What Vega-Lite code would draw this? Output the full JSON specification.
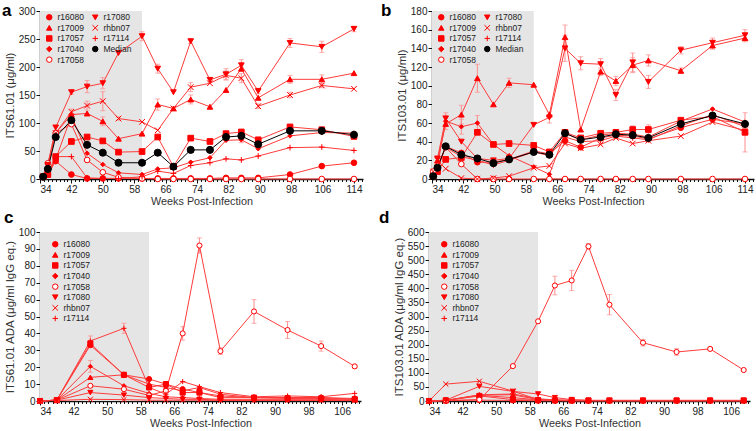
{
"$schema": "https://vega.github.io/schema/vega-lite/v6.json",
"padding": {"left": 2, "top": 2, "right": 2, "bottom": 2},
"config": {
  "font": "Liberation Sans",
  "view": {"stroke": null},
  "axis": {"grid": false, "labelOverlap": false, "format": "d", "domainColor": "#111", "domainWidth": 1.4, "tickColor": "#111", "tickWidth": 1, "tickSize": 4, "labelFont": "Liberation Sans", "labelFontSize": 10, "labelColor": "#222", "labelPadding": 1, "titleFont": "Liberation Sans", "titleFontSize": 11.5, "titleFontWeight": "normal", "titleColor": "#333"},
  "axisX": {"titleFontSize": 10.8},
  "legend": {"labelFont": "Liberation Sans", "labelFontSize": 8.5, "labelColor": "#222", "symbolSize": 30, "symbolStrokeWidth": 1, "rowPadding": 0.6, "labelOffset": 4, "columnPadding": 6},
  "title": {"font": "Liberation Sans", "fontSize": 17, "fontWeight": "bold", "color": "#000"}
},
"datasets": {
"shade": [{"x1": 34, "x2": 60}],
"a": [
{"s":"r16080","w":34.8,"v":4},{"s":"r16080","w":36,"v":8},{"s":"r16080","w":38,"v":32},{"s":"r16080","w":42,"v":8},{"s":"r16080","w":46,"v":1},{"s":"r16080","w":50,"v":1},{"s":"r16080","w":54,"v":1},{"s":"r16080","w":60,"v":1},{"s":"r16080","w":64,"v":1},{"s":"r16080","w":68,"v":1},{"s":"r16080","w":72.4,"v":1},{"s":"r16080","w":77.3,"v":1},{"s":"r16080","w":81.4,"v":2},{"s":"r16080","w":85.3,"v":2},{"s":"r16080","w":89.6,"v":2},{"s":"r16080","w":97.7,"v":8},{"s":"r16080","w":105.8,"v":23},{"s":"r16080","w":114,"v":29},
{"s":"r17009","w":34.8,"v":4},{"s":"r17009","w":36,"v":20},{"s":"r17009","w":38,"v":82},{"s":"r17009","w":42,"v":115},{"s":"r17009","w":46,"v":117},{"s":"r17009","w":50,"v":103,"e":8},{"s":"r17009","w":54,"v":72},{"s":"r17009","w":60,"v":81},{"s":"r17009","w":64,"v":133,"e":10},{"s":"r17009","w":68,"v":126},{"s":"r17009","w":72.4,"v":142,"e":8},{"s":"r17009","w":77.3,"v":129},{"s":"r17009","w":81.4,"v":159},{"s":"r17009","w":85.3,"v":197},{"s":"r17009","w":89.6,"v":145},{"s":"r17009","w":97.7,"v":178,"e":7},{"s":"r17009","w":105.8,"v":178,"e":8},{"s":"r17009","w":114,"v":189},
{"s":"r17057","w":34.8,"v":4},{"s":"r17057","w":36,"v":8},{"s":"r17057","w":38,"v":40},{"s":"r17057","w":42,"v":67,"e":3},{"s":"r17057","w":46,"v":75},{"s":"r17057","w":50,"v":68},{"s":"r17057","w":54,"v":48},{"s":"r17057","w":60,"v":49},{"s":"r17057","w":64,"v":75},{"s":"r17057","w":68,"v":22},{"s":"r17057","w":72.4,"v":73},{"s":"r17057","w":77.3,"v":67},{"s":"r17057","w":81.4,"v":81},{"s":"r17057","w":85.3,"v":84,"e":4},{"s":"r17057","w":89.6,"v":70},{"s":"r17057","w":97.7,"v":93},{"s":"r17057","w":105.8,"v":88},{"s":"r17057","w":114,"v":76},
{"s":"r17040","w":34.8,"v":4},{"s":"r17040","w":36,"v":10},{"s":"r17040","w":38,"v":35},{"s":"r17040","w":42,"v":113},{"s":"r17040","w":46,"v":46},{"s":"r17040","w":50,"v":26},{"s":"r17040","w":54,"v":11},{"s":"r17040","w":60,"v":8},{"s":"r17040","w":64,"v":18},{"s":"r17040","w":68,"v":20},{"s":"r17040","w":72.4,"v":30},{"s":"r17040","w":77.3,"v":38},{"s":"r17040","w":81.4,"v":69},{"s":"r17040","w":85.3,"v":70,"e":5},{"s":"r17040","w":89.6,"v":54},{"s":"r17040","w":97.7,"v":77},{"s":"r17040","w":105.8,"v":83},{"s":"r17040","w":114,"v":82},
{"s":"r17058","w":34.8,"v":4},{"s":"r17058","w":36,"v":28},{"s":"r17058","w":38,"v":82},{"s":"r17058","w":42,"v":98},{"s":"r17058","w":46,"v":34},{"s":"r17058","w":50,"v":12},{"s":"r17058","w":54,"v":3},{"s":"r17058","w":60,"v":1},{"s":"r17058","w":64,"v":0},{"s":"r17058","w":68,"v":0},{"s":"r17058","w":72.4,"v":0},{"s":"r17058","w":77.3,"v":0},{"s":"r17058","w":81.4,"v":0},{"s":"r17058","w":85.3,"v":0},{"s":"r17058","w":89.6,"v":0},{"s":"r17058","w":97.7,"v":0},{"s":"r17058","w":105.8,"v":0},{"s":"r17058","w":114,"v":0},
{"s":"r17080","w":34.8,"v":4},{"s":"r17080","w":36,"v":25},{"s":"r17080","w":38,"v":92},{"s":"r17080","w":42,"v":155,"e":4},{"s":"r17080","w":46,"v":165,"e":11},{"s":"r17080","w":50,"v":171,"e":10},{"s":"r17080","w":54,"v":225},{"s":"r17080","w":60,"v":255,"e":8},{"s":"r17080","w":64,"v":197,"e":8},{"s":"r17080","w":68,"v":155},{"s":"r17080","w":72.4,"v":246,"e":4},{"s":"r17080","w":77.3,"v":177,"e":4},{"s":"r17080","w":81.4,"v":187,"e":10},{"s":"r17080","w":85.3,"v":203,"e":10},{"s":"r17080","w":89.6,"v":157,"e":5},{"s":"r17080","w":97.7,"v":243,"e":8},{"s":"r17080","w":105.8,"v":236,"e":10},{"s":"r17080","w":114,"v":268,"e":5},
{"s":"rhbn07","w":34.8,"v":4},{"s":"rhbn07","w":36,"v":25},{"s":"rhbn07","w":38,"v":82},{"s":"rhbn07","w":42,"v":120,"e":5},{"s":"rhbn07","w":46,"v":131,"e":8},{"s":"rhbn07","w":50,"v":139,"e":17},{"s":"rhbn07","w":54,"v":108,"e":3},{"s":"rhbn07","w":60,"v":102},{"s":"rhbn07","w":64,"v":87},{"s":"rhbn07","w":68,"v":126},{"s":"rhbn07","w":72.4,"v":164,"e":8},{"s":"rhbn07","w":77.3,"v":171},{"s":"rhbn07","w":81.4,"v":185,"e":8},{"s":"rhbn07","w":85.3,"v":180,"e":8},{"s":"rhbn07","w":89.6,"v":130,"e":4},{"s":"rhbn07","w":97.7,"v":150,"e":5},{"s":"rhbn07","w":105.8,"v":167,"e":4},{"s":"rhbn07","w":114,"v":161},
{"s":"r17114","w":34.8,"v":4},{"s":"r17114","w":36,"v":10},{"s":"r17114","w":38,"v":40},{"s":"r17114","w":42,"v":40},{"s":"r17114","w":46,"v":2},{"s":"r17114","w":50,"v":1},{"s":"r17114","w":54,"v":1},{"s":"r17114","w":60,"v":4},{"s":"r17114","w":64,"v":14},{"s":"r17114","w":68,"v":10},{"s":"r17114","w":72.4,"v":24},{"s":"r17114","w":77.3,"v":29},{"s":"r17114","w":81.4,"v":36},{"s":"r17114","w":85.3,"v":34},{"s":"r17114","w":89.6,"v":41},{"s":"r17114","w":97.7,"v":56},{"s":"r17114","w":105.8,"v":57},{"s":"r17114","w":114,"v":51},
{"s":"Median","w":34.8,"v":4},{"s":"Median","w":36,"v":18},{"s":"Median","w":38,"v":75},{"s":"Median","w":42,"v":105},{"s":"Median","w":46,"v":61},{"s":"Median","w":50,"v":47},{"s":"Median","w":54,"v":29},{"s":"Median","w":60,"v":29},{"s":"Median","w":64,"v":47},{"s":"Median","w":68,"v":22},{"s":"Median","w":72.4,"v":52},{"s":"Median","w":77.3,"v":52},{"s":"Median","w":81.4,"v":75},{"s":"Median","w":85.3,"v":77},{"s":"Median","w":89.6,"v":62},{"s":"Median","w":97.7,"v":86},{"s":"Median","w":105.8,"v":86},{"s":"Median","w":114,"v":79}
],
"b": [
{"s":"r16080","w":34.3,"v":3},{"s":"r16080","w":35.4,"v":10},{"s":"r16080","w":37.5,"v":35},{"s":"r16080","w":41.5,"v":28},{"s":"r16080","w":45.6,"v":18},{"s":"r16080","w":49.7,"v":18},{"s":"r16080","w":53.7,"v":21},{"s":"r16080","w":60,"v":30},{"s":"r16080","w":64,"v":27},{"s":"r16080","w":68,"v":41},{"s":"r16080","w":72,"v":34},{"s":"r16080","w":77.1,"v":44},{"s":"r16080","w":81,"v":47},{"s":"r16080","w":85.3,"v":46},{"s":"r16080","w":89.3,"v":43},{"s":"r16080","w":97.6,"v":55},{"s":"r16080","w":105.7,"v":64},{"s":"r16080","w":114,"v":59},
{"s":"r17009","w":34.3,"v":3},{"s":"r17009","w":35.4,"v":20},{"s":"r17009","w":37.5,"v":59,"e":6},{"s":"r17009","w":41.5,"v":69,"e":10},{"s":"r17009","w":45.6,"v":108,"e":15},{"s":"r17009","w":49.7,"v":80},{"s":"r17009","w":53.7,"v":103,"e":5},{"s":"r17009","w":60,"v":101},{"s":"r17009","w":64,"v":69},{"s":"r17009","w":68,"v":152,"e":13},{"s":"r17009","w":72,"v":53},{"s":"r17009","w":77.1,"v":115,"e":4},{"s":"r17009","w":81,"v":105,"e":5},{"s":"r17009","w":85.3,"v":122,"e":8},{"s":"r17009","w":89.3,"v":127,"e":6},{"s":"r17009","w":97.6,"v":116,"e":3},{"s":"r17009","w":105.7,"v":143,"e":4},{"s":"r17009","w":114,"v":151,"e":4},
{"s":"r17057","w":34.3,"v":3},{"s":"r17057","w":35.4,"v":8},{"s":"r17057","w":37.5,"v":21},{"s":"r17057","w":41.5,"v":23},{"s":"r17057","w":45.6,"v":50},{"s":"r17057","w":49.7,"v":37},{"s":"r17057","w":53.7,"v":38},{"s":"r17057","w":60,"v":36},{"s":"r17057","w":64,"v":29},{"s":"r17057","w":68,"v":50},{"s":"r17057","w":72,"v":44},{"s":"r17057","w":77.1,"v":49},{"s":"r17057","w":81,"v":50},{"s":"r17057","w":85.3,"v":53,"e":4},{"s":"r17057","w":89.3,"v":53,"e":5},{"s":"r17057","w":97.6,"v":63},{"s":"r17057","w":105.7,"v":67},{"s":"r17057","w":114,"v":50,"e":21},
{"s":"r17040","w":34.3,"v":3},{"s":"r17040","w":35.4,"v":14},{"s":"r17040","w":37.5,"v":62},{"s":"r17040","w":41.5,"v":56,"e":8},{"s":"r17040","w":45.6,"v":60,"e":8},{"s":"r17040","w":49.7,"v":37},{"s":"r17040","w":53.7,"v":25},{"s":"r17040","w":60,"v":13},{"s":"r17040","w":64,"v":5},{"s":"r17040","w":68,"v":49},{"s":"r17040","w":72,"v":42},{"s":"r17040","w":77.1,"v":47},{"s":"r17040","w":81,"v":49},{"s":"r17040","w":85.3,"v":48},{"s":"r17040","w":89.3,"v":45},{"s":"r17040","w":97.6,"v":62},{"s":"r17040","w":105.7,"v":75},{"s":"r17040","w":114,"v":61},
{"s":"r17058","w":34.3,"v":8},{"s":"r17058","w":35.4,"v":14},{"s":"r17058","w":37.5,"v":34},{"s":"r17058","w":41.5,"v":16},{"s":"r17058","w":45.6,"v":0},{"s":"r17058","w":49.7,"v":0},{"s":"r17058","w":53.7,"v":0},{"s":"r17058","w":60,"v":0},{"s":"r17058","w":64,"v":0},{"s":"r17058","w":68,"v":0},{"s":"r17058","w":72,"v":0},{"s":"r17058","w":77.1,"v":0},{"s":"r17058","w":81,"v":0},{"s":"r17058","w":85.3,"v":0},{"s":"r17058","w":89.3,"v":0},{"s":"r17058","w":97.6,"v":0},{"s":"r17058","w":105.7,"v":0},{"s":"r17058","w":114,"v":0},
{"s":"r17080","w":34.3,"v":3},{"s":"r17080","w":35.4,"v":22},{"s":"r17080","w":37.5,"v":65,"e":6},{"s":"r17080","w":41.5,"v":40},{"s":"r17080","w":45.6,"v":22},{"s":"r17080","w":49.7,"v":20},{"s":"r17080","w":53.7,"v":22},{"s":"r17080","w":60,"v":58},{"s":"r17080","w":64,"v":66,"e":6},{"s":"r17080","w":68,"v":140,"e":14},{"s":"r17080","w":72,"v":124,"e":7},{"s":"r17080","w":77.1,"v":123,"e":6},{"s":"r17080","w":81,"v":90,"e":6},{"s":"r17080","w":85.3,"v":125,"e":10},{"s":"r17080","w":89.3,"v":104,"e":7},{"s":"r17080","w":97.6,"v":138,"e":4},{"s":"r17080","w":105.7,"v":146,"e":5},{"s":"r17080","w":114,"v":154,"e":6},
{"s":"rhbn07","w":34.3,"v":8},{"s":"rhbn07","w":35.4,"v":20},{"s":"rhbn07","w":37.5,"v":11},{"s":"rhbn07","w":41.5,"v":1},{"s":"rhbn07","w":45.6,"v":0},{"s":"rhbn07","w":49.7,"v":1},{"s":"rhbn07","w":53.7,"v":3},{"s":"rhbn07","w":60,"v":12},{"s":"rhbn07","w":64,"v":14},{"s":"rhbn07","w":68,"v":38},{"s":"rhbn07","w":72,"v":33},{"s":"rhbn07","w":77.1,"v":37},{"s":"rhbn07","w":81,"v":44},{"s":"rhbn07","w":85.3,"v":38},{"s":"rhbn07","w":89.3,"v":41},{"s":"rhbn07","w":97.6,"v":46},{"s":"rhbn07","w":105.7,"v":61},{"s":"rhbn07","w":114,"v":52},
{"s":"r17114","w":34.3,"v":3},{"s":"r17114","w":35.4,"v":12},{"s":"r17114","w":37.5,"v":34},{"s":"r17114","w":41.5,"v":24},{"s":"r17114","w":45.6,"v":20},{"s":"r17114","w":49.7,"v":15},{"s":"r17114","w":53.7,"v":20},{"s":"r17114","w":60,"v":29},{"s":"r17114","w":64,"v":25},{"s":"r17114","w":68,"v":45},{"s":"r17114","w":72,"v":40},{"s":"r17114","w":77.1,"v":41},{"s":"r17114","w":81,"v":46},{"s":"r17114","w":85.3,"v":44},{"s":"r17114","w":89.3,"v":42},{"s":"r17114","w":97.6,"v":57},{"s":"r17114","w":105.7,"v":69},{"s":"r17114","w":114,"v":56},
{"s":"Median","w":34.3,"v":3},{"s":"Median","w":35.4,"v":12},{"s":"Median","w":37.5,"v":35},{"s":"Median","w":41.5,"v":26},{"s":"Median","w":45.6,"v":22},{"s":"Median","w":49.7,"v":17},{"s":"Median","w":53.7,"v":21},{"s":"Median","w":60,"v":29},{"s":"Median","w":64,"v":26},{"s":"Median","w":68,"v":49},{"s":"Median","w":72,"v":42},{"s":"Median","w":77.1,"v":45},{"s":"Median","w":81,"v":48},{"s":"Median","w":85.3,"v":47},{"s":"Median","w":89.3,"v":44},{"s":"Median","w":97.6,"v":59},{"s":"Median","w":105.7,"v":68},{"s":"Median","w":114,"v":59}
],
"c": [
{"s":"r16080","w":34,"v":0},{"s":"r16080","w":38,"v":0.5},{"s":"r16080","w":46,"v":33},{"s":"r16080","w":54,"v":15.5},{"s":"r16080","w":60,"v":13},{"s":"r16080","w":64,"v":10},{"s":"r16080","w":68,"v":7},{"s":"r16080","w":72,"v":5},{"s":"r16080","w":77,"v":3},{"s":"r16080","w":85,"v":2},{"s":"r16080","w":93,"v":2},{"s":"r16080","w":101,"v":2},{"s":"r16080","w":109,"v":1.5},
{"s":"r17009","w":34,"v":0},{"s":"r17009","w":38,"v":0.5},{"s":"r17009","w":46,"v":14},{"s":"r17009","w":54,"v":15.5},{"s":"r17009","w":60,"v":10},{"s":"r17009","w":64,"v":8},{"s":"r17009","w":68,"v":6},{"s":"r17009","w":72,"v":8},{"s":"r17009","w":77,"v":4},{"s":"r17009","w":85,"v":2},{"s":"r17009","w":93,"v":2},{"s":"r17009","w":101,"v":2},{"s":"r17009","w":109,"v":1},
{"s":"r17057","w":34,"v":0},{"s":"r17057","w":38,"v":0.5},{"s":"r17057","w":46,"v":34,"e":2},{"s":"r17057","w":54,"v":15.5},{"s":"r17057","w":60,"v":8},{"s":"r17057","w":64,"v":10},{"s":"r17057","w":68,"v":5},{"s":"r17057","w":72,"v":5},{"s":"r17057","w":77,"v":2},{"s":"r17057","w":85,"v":2},{"s":"r17057","w":93,"v":1.5},{"s":"r17057","w":101,"v":1.5},{"s":"r17057","w":109,"v":1},
{"s":"r17040","w":34,"v":0},{"s":"r17040","w":38,"v":0.5},{"s":"r17040","w":46,"v":20.5,"e":3.5},{"s":"r17040","w":54,"v":9},{"s":"r17040","w":60,"v":4.5},{"s":"r17040","w":64,"v":2.5},{"s":"r17040","w":68,"v":2},{"s":"r17040","w":72,"v":1.5},{"s":"r17040","w":77,"v":1},{"s":"r17040","w":85,"v":1},{"s":"r17040","w":93,"v":1},{"s":"r17040","w":101,"v":1},{"s":"r17040","w":109,"v":0.5},
{"s":"r17058","w":34,"v":0},{"s":"r17058","w":38,"v":0.5},{"s":"r17058","w":46,"v":9},{"s":"r17058","w":54,"v":7},{"s":"r17058","w":60,"v":3.3},{"s":"r17058","w":64,"v":6},{"s":"r17058","w":68,"v":40,"e":4},{"s":"r17058","w":72,"v":92,"e":4.5},{"s":"r17058","w":77,"v":29.5,"e":2},{"s":"r17058","w":85,"v":53,"e":7},{"s":"r17058","w":93,"v":42,"e":5},{"s":"r17058","w":101,"v":32.5,"e":3},{"s":"r17058","w":109,"v":20.5,"e":1},
{"s":"r17080","w":34,"v":0},{"s":"r17080","w":38,"v":0.5},{"s":"r17080","w":46,"v":5},{"s":"r17080","w":54,"v":3.5},{"s":"r17080","w":60,"v":2},{"s":"r17080","w":64,"v":1.5},{"s":"r17080","w":68,"v":1},{"s":"r17080","w":72,"v":1},{"s":"r17080","w":77,"v":0.5},{"s":"r17080","w":85,"v":0.5},{"s":"r17080","w":93,"v":0.5},{"s":"r17080","w":101,"v":0.5},{"s":"r17080","w":109,"v":0.5},
{"s":"rhbn07","w":34,"v":0},{"s":"rhbn07","w":38,"v":0.3},{"s":"rhbn07","w":46,"v":1},{"s":"rhbn07","w":54,"v":0.8},{"s":"rhbn07","w":60,"v":0.5},{"s":"rhbn07","w":64,"v":0.5},{"s":"rhbn07","w":68,"v":0.5},{"s":"rhbn07","w":72,"v":0.5},{"s":"rhbn07","w":77,"v":0.3},{"s":"rhbn07","w":85,"v":0.3},{"s":"rhbn07","w":93,"v":0.3},{"s":"rhbn07","w":101,"v":0.3},{"s":"rhbn07","w":109,"v":0.3},
{"s":"r17114","w":34,"v":0},{"s":"r17114","w":38,"v":0.5},{"s":"r17114","w":46,"v":35.5,"e":3},{"s":"r17114","w":54,"v":43,"e":3},{"s":"r17114","w":60,"v":8},{"s":"r17114","w":64,"v":4},{"s":"r17114","w":68,"v":11.5},{"s":"r17114","w":72,"v":8.5},{"s":"r17114","w":77,"v":5},{"s":"r17114","w":85,"v":2.5},{"s":"r17114","w":93,"v":3},{"s":"r17114","w":101,"v":2.5},{"s":"r17114","w":109,"v":4.5}
],
"d": [
{"s":"r16080","w":34,"v":0},{"s":"r16080","w":38,"v":1},{"s":"r16080","w":46,"v":3},{"s":"r16080","w":54,"v":2},{"s":"r16080","w":60,"v":1},{"s":"r16080","w":64,"v":1},{"s":"r16080","w":68,"v":1},{"s":"r16080","w":72,"v":1},{"s":"r16080","w":77,"v":1},{"s":"r16080","w":85,"v":1},{"s":"r16080","w":93,"v":1},{"s":"r16080","w":101,"v":1},{"s":"r16080","w":109,"v":1},
{"s":"r17009","w":34,"v":0},{"s":"r17009","w":38,"v":2},{"s":"r17009","w":46,"v":21},{"s":"r17009","w":54,"v":22},{"s":"r17009","w":60,"v":5},{"s":"r17009","w":64,"v":3},{"s":"r17009","w":68,"v":2},{"s":"r17009","w":72,"v":2},{"s":"r17009","w":77,"v":2},{"s":"r17009","w":85,"v":2},{"s":"r17009","w":93,"v":2},{"s":"r17009","w":101,"v":2},{"s":"r17009","w":109,"v":2},
{"s":"r17057","w":34,"v":0},{"s":"r17057","w":38,"v":2},{"s":"r17057","w":46,"v":18},{"s":"r17057","w":54,"v":5},{"s":"r17057","w":60,"v":3},{"s":"r17057","w":64,"v":2},{"s":"r17057","w":68,"v":2},{"s":"r17057","w":72,"v":2},{"s":"r17057","w":77,"v":2},{"s":"r17057","w":85,"v":2},{"s":"r17057","w":93,"v":2},{"s":"r17057","w":101,"v":2},{"s":"r17057","w":109,"v":2},
{"s":"r17040","w":34,"v":0},{"s":"r17040","w":38,"v":2},{"s":"r17040","w":46,"v":20},{"s":"r17040","w":54,"v":12},{"s":"r17040","w":60,"v":4},{"s":"r17040","w":64,"v":2},{"s":"r17040","w":68,"v":1},{"s":"r17040","w":72,"v":1},{"s":"r17040","w":77,"v":1},{"s":"r17040","w":85,"v":1},{"s":"r17040","w":93,"v":1},{"s":"r17040","w":101,"v":1},{"s":"r17040","w":109,"v":1},
{"s":"r17058","w":34,"v":0},{"s":"r17058","w":38,"v":2},{"s":"r17058","w":46,"v":5},{"s":"r17058","w":54,"v":124},{"s":"r17058","w":60,"v":283},{"s":"r17058","w":64,"v":410,"e":33},{"s":"r17058","w":68,"v":428,"e":36},{"s":"r17058","w":72,"v":549,"e":10},{"s":"r17058","w":77,"v":342,"e":36},{"s":"r17058","w":85,"v":207,"e":12},{"s":"r17058","w":93,"v":174,"e":12},{"s":"r17058","w":101,"v":185,"e":4},{"s":"r17058","w":109,"v":110},
{"s":"r17080","w":34,"v":0},{"s":"r17080","w":38,"v":3},{"s":"r17080","w":46,"v":52},{"s":"r17080","w":54,"v":34},{"s":"r17080","w":60,"v":25},{"s":"r17080","w":64,"v":12},{"s":"r17080","w":68,"v":5},{"s":"r17080","w":72,"v":2},{"s":"r17080","w":77,"v":2},{"s":"r17080","w":85,"v":2},{"s":"r17080","w":93,"v":2},{"s":"r17080","w":101,"v":2},{"s":"r17080","w":109,"v":2},
{"s":"rhbn07","w":34,"v":0},{"s":"rhbn07","w":38,"v":60},{"s":"rhbn07","w":46,"v":70},{"s":"rhbn07","w":54,"v":35},{"s":"rhbn07","w":60,"v":5},{"s":"rhbn07","w":64,"v":2},{"s":"rhbn07","w":68,"v":1},{"s":"rhbn07","w":72,"v":1},{"s":"rhbn07","w":77,"v":1},{"s":"rhbn07","w":85,"v":1},{"s":"rhbn07","w":93,"v":1},{"s":"rhbn07","w":101,"v":1},{"s":"rhbn07","w":109,"v":1},
{"s":"r17114","w":34,"v":0},{"s":"r17114","w":38,"v":2},{"s":"r17114","w":46,"v":22},{"s":"r17114","w":54,"v":25},{"s":"r17114","w":60,"v":8},{"s":"r17114","w":64,"v":4},{"s":"r17114","w":68,"v":3},{"s":"r17114","w":72,"v":2},{"s":"r17114","w":77,"v":1},{"s":"r17114","w":85,"v":1},{"s":"r17114","w":93,"v":1},{"s":"r17114","w":101,"v":1},{"s":"r17114","w":109,"v":1}
]
},
"spacing": 3,
"vconcat": [
{"hconcat": [
 {"width": 323, "height": 168,
  "title": {"text": "a", "anchor": "start", "frame": "group", "dx": -38, "dy": 14, "offset": 0},
  "layer": [
   {"data": {"name": "shade"}, "mark": {"type": "rect", "color": "#e5e5e5"},
    "encoding": {"x": {"field": "x1", "type": "quantitative", "title": "Weeks Post-Infection", "scale": {"domain": [34, 116.3], "nice": false, "zero": false}},
     "x2": {"field": "x2"}}},
   {"data": {"name": "a"}, "transform": [{"filter": "isValid(datum.e)"}],
    "mark": {"type": "errorbar", "ticks": {"size": 5}, "color": "#ff8c8c", "thickness": 1},
    "encoding": {"x": {"field": "w", "type": "quantitative", "title": "Weeks Post-Infection"},
     "y": {"field": "v", "type": "quantitative", "title": "ITS61.01 (μg/ml)", "scale": {"domain": [0, 300], "nice": false}},
     "yError": {"field": "e"}}},
   {"data": {"name": "a"}, "mark": {"type": "line", "strokeWidth": 1},
    "encoding": {"x": {"field": "w", "type": "quantitative", "title": "Weeks Post-Infection",
      "axis": {"values": [34,35,36,37,38,39,40,41,42,43,44,45,46,47,48,49,50,51,52,53,54,55,56,57,58,59,60,61,62,63,64,65,66,67,68,69,70,71,72,73,74,75,76,77,78,79,80,81,82,83,84,85,86,87,88,89,90,91,92,93,94,95,96,97,98,99,100,101,102,103,104,105,106,107,108,109,110,111,112,113,114,115,116], "tickCount": 500, "format": "d", "labelExpr": "(datum.value - 34) % 8 === 0 ? datum.label : ''", "labelOverlap": false, "tickSize": {"condition": {"test": "(datum.value - 34) % 8 === 0", "value": 4}, "value": 2.5}, "titlePadding": 1}},
     "y": {"field": "v", "type": "quantitative", "title": "ITS61.01 (μg/ml)", "axis": {"values": [0,50,100,150,200,250,300], "tickCount": 500, "format": "d", "labelOverlap": false, "titlePadding": 3}}, "detail": {"field": "s"},
     "color": {"condition": {"test": "datum.s === 'Median'", "value": "#000000"}, "value": "#ff3b3b"}}},
   {"data": {"name": "a"}, "mark": {"type": "point", "opacity": 1, "strokeWidth": 1},
    "encoding": {"x": {"field": "w", "type": "quantitative", "title": "Weeks Post-Infection"}, "y": {"field": "v", "type": "quantitative", "title": "ITS61.01 (μg/ml)"},
     "size": {"condition": [{"test": "datum.s === 'Median'", "value": 50}, {"test": "datum.s === 'r17040'", "value": 20}], "value": 32},
     "shape": {"field": "s", "type": "nominal", "scale": {"domain": ["r16080","r17009","r17057","r17040","r17058","r17080","rhbn07","r17114","Median"], "range": ["circle","triangle-up","square","diamond","circle","triangle-down","M-1,-1L1,1M-1,1L1,-1","M-1,0H1M0,-1V1","circle"]},
      "legend": {"title": null, "orient": "none", "legendX": 5, "legendY": 2, "columns": 2}},
     "stroke": {"field": "s", "type": "nominal", "scale": {"domain": ["r16080","r17009","r17057","r17040","r17058","r17080","rhbn07","r17114","Median"], "range": ["#ff0000","#ff0000","#ff0000","#ff0000","#ff0000","#ff0000","#ff0000","#ff0000","#000000"]},
      "legend": {"title": null, "orient": "none", "legendX": 5, "legendY": 2, "columns": 2}},
     "fill": {"field": "s", "type": "nominal", "scale": {"domain": ["r16080","r17009","r17057","r17040","r17058","r17080","rhbn07","r17114","Median"], "range": ["#ff0000","#ff0000","#ff0000","#ff0000","#ffffff","#ff0000","#ff0000","#ff0000","#000000"]},
      "legend": {"title": null, "orient": "none", "legendX": 5, "legendY": 2, "columns": 2}}}}
  ]},
 {"width": 322, "height": 168,
  "title": {"text": "b", "anchor": "start", "frame": "group", "dx": -51, "dy": 14, "offset": 0},
  "layer": [
   {"data": {"name": "shade"}, "mark": {"type": "rect", "color": "#e5e5e5"},
    "encoding": {"x": {"field": "x1", "type": "quantitative", "title": "Weeks Post-Infection", "scale": {"domain": [34, 116.3], "nice": false, "zero": false}},
     "x2": {"field": "x2"}}},
   {"data": {"name": "b"}, "transform": [{"filter": "isValid(datum.e)"}],
    "mark": {"type": "errorbar", "ticks": {"size": 5}, "color": "#ff8c8c", "thickness": 1},
    "encoding": {"x": {"field": "w", "type": "quantitative", "title": "Weeks Post-Infection"},
     "y": {"field": "v", "type": "quantitative", "title": "ITS103.01 (μg/ml)", "scale": {"domain": [0, 180], "nice": false}},
     "yError": {"field": "e"}}},
   {"data": {"name": "b"}, "mark": {"type": "line", "strokeWidth": 1},
    "encoding": {"x": {"field": "w", "type": "quantitative", "title": "Weeks Post-Infection",
      "axis": {"values": [34,35,36,37,38,39,40,41,42,43,44,45,46,47,48,49,50,51,52,53,54,55,56,57,58,59,60,61,62,63,64,65,66,67,68,69,70,71,72,73,74,75,76,77,78,79,80,81,82,83,84,85,86,87,88,89,90,91,92,93,94,95,96,97,98,99,100,101,102,103,104,105,106,107,108,109,110,111,112,113,114,115,116], "tickCount": 500, "format": "d", "labelExpr": "(datum.value - 34) % 8 === 0 ? datum.label : ''", "labelOverlap": false, "tickSize": {"condition": {"test": "(datum.value - 34) % 8 === 0", "value": 4}, "value": 2.5}, "titlePadding": 1}},
     "y": {"field": "v", "type": "quantitative", "title": "ITS103.01 (μg/ml)", "axis": {"values": [0,20,40,60,80,100,120,140,160,180], "tickCount": 500, "format": "d", "labelOverlap": false, "titlePadding": 3}}, "detail": {"field": "s"},
     "color": {"condition": {"test": "datum.s === 'Median'", "value": "#000000"}, "value": "#ff3b3b"}}},
   {"data": {"name": "b"}, "mark": {"type": "point", "opacity": 1, "strokeWidth": 1},
    "encoding": {"x": {"field": "w", "type": "quantitative", "title": "Weeks Post-Infection"}, "y": {"field": "v", "type": "quantitative", "title": "ITS103.01 (μg/ml)"},
     "size": {"condition": [{"test": "datum.s === 'Median'", "value": 50}, {"test": "datum.s === 'r17040'", "value": 20}], "value": 32},
     "shape": {"field": "s", "type": "nominal", "scale": {"domain": ["r16080","r17009","r17057","r17040","r17058","r17080","rhbn07","r17114","Median"], "range": ["circle","triangle-up","square","diamond","circle","triangle-down","M-1,-1L1,1M-1,1L1,-1","M-1,0H1M0,-1V1","circle"]},
      "legend": {"title": null, "orient": "none", "legendX": 5, "legendY": 2, "columns": 2}},
     "stroke": {"field": "s", "type": "nominal", "scale": {"domain": ["r16080","r17009","r17057","r17040","r17058","r17080","rhbn07","r17114","Median"], "range": ["#ff0000","#ff0000","#ff0000","#ff0000","#ff0000","#ff0000","#ff0000","#ff0000","#000000"]},
      "legend": {"title": null, "orient": "none", "legendX": 5, "legendY": 2, "columns": 2}},
     "fill": {"field": "s", "type": "nominal", "scale": {"domain": ["r16080","r17009","r17057","r17040","r17058","r17080","rhbn07","r17114","Median"], "range": ["#ff0000","#ff0000","#ff0000","#ff0000","#ffffff","#ff0000","#ff0000","#ff0000","#000000"]},
      "legend": {"title": null, "orient": "none", "legendX": 5, "legendY": 2, "columns": 2}}}}
  ]}
 ], "spacing": 18, "resolve": {"legend": {"shape": "independent", "stroke": "independent", "fill": "independent"}, "scale": {"shape": "independent", "stroke": "independent", "fill": "independent"}}},
{"hconcat": [
 {"width": 321, "height": 169,
  "title": {"text": "c", "anchor": "start", "frame": "group", "dx": -36, "dy": 0, "offset": 0},
  "layer": [
   {"data": {"name": "shade"}, "mark": {"type": "rect", "color": "#e5e5e5"},
    "encoding": {"x": {"field": "x1", "type": "quantitative", "title": "Weeks Post-Infection", "scale": {"domain": [34, 110.5], "nice": false, "zero": false}},
     "x2": {"field": "x2"}}},
   {"data": {"name": "c"}, "transform": [{"filter": "isValid(datum.e)"}],
    "mark": {"type": "errorbar", "ticks": {"size": 5}, "color": "#ff8c8c", "thickness": 1},
    "encoding": {"x": {"field": "w", "type": "quantitative", "title": "Weeks Post-Infection"},
     "y": {"field": "v", "type": "quantitative", "title": "ITS61.01 ADA (μg/ml IgG eq.)", "scale": {"domain": [0, 100], "nice": false}},
     "yError": {"field": "e"}}},
   {"data": {"name": "c"}, "mark": {"type": "line", "strokeWidth": 1, "color": "#ff3b3b"},
    "encoding": {"x": {"field": "w", "type": "quantitative", "title": "Weeks Post-Infection",
      "axis": {"values": [34,35,36,37,38,39,40,41,42,43,44,45,46,47,48,49,50,51,52,53,54,55,56,57,58,59,60,61,62,63,64,65,66,67,68,69,70,71,72,73,74,75,76,77,78,79,80,81,82,83,84,85,86,87,88,89,90,91,92,93,94,95,96,97,98,99,100,101,102,103,104,105,106,107,108,109,110], "tickCount": 500, "format": "d", "labelExpr": "(datum.value - 34) % 8 === 0 ? datum.label : ''", "labelOverlap": false, "tickSize": {"condition": {"test": "(datum.value - 34) % 8 === 0", "value": 4}, "value": 2.5}, "titlePadding": 1}},
     "y": {"field": "v", "type": "quantitative", "title": "ITS61.01 ADA (μg/ml IgG eq.)", "axis": {"values": [0,10,20,30,40,50,60,70,80,90,100], "tickCount": 500, "format": "d", "labelOverlap": false, "titlePadding": 3}}, "detail": {"field": "s"}}},
   {"data": {"name": "c"}, "mark": {"type": "point", "opacity": 1, "strokeWidth": 1},
    "encoding": {"x": {"field": "w", "type": "quantitative", "title": "Weeks Post-Infection"}, "y": {"field": "v", "type": "quantitative", "title": "ITS61.01 ADA (μg/ml IgG eq.)"},
     "size": {"condition": [{"test": "datum.s === 'r17040'", "value": 18}], "value": 26},
     "shape": {"field": "s", "type": "nominal", "scale": {"domain": ["r16080","r17009","r17057","r17040","r17058","r17080","rhbn07","r17114"], "range": ["circle","triangle-up","square","diamond","circle","triangle-down","M-1,-1L1,1M-1,1L1,-1","M-1,0H1M0,-1V1"]},
      "legend": {"title": null, "orient": "none", "legendX": 11, "legendY": 8}},
     "stroke": {"field": "s", "type": "nominal", "scale": {"domain": ["r16080","r17009","r17057","r17040","r17058","r17080","rhbn07","r17114"], "range": ["#ff0000","#ff0000","#ff0000","#ff0000","#ff0000","#ff0000","#ff0000","#ff0000"]},
      "legend": {"title": null, "orient": "none", "legendX": 11, "legendY": 8}},
     "fill": {"field": "s", "type": "nominal", "scale": {"domain": ["r16080","r17009","r17057","r17040","r17058","r17080","rhbn07","r17114"], "range": ["#ff0000","#ff0000","#ff0000","#ff0000","#ffffff","#ff0000","#ff0000","#ff0000"]},
      "legend": {"title": null, "orient": "none", "legendX": 11, "legendY": 8}}}}
  ]},
 {"width": 321, "height": 169,
  "title": {"text": "d", "anchor": "start", "frame": "group", "dx": -50, "dy": 0, "offset": 0},
  "layer": [
   {"data": {"name": "shade"}, "mark": {"type": "rect", "color": "#e5e5e5"},
    "encoding": {"x": {"field": "x1", "type": "quantitative", "title": "Weeks Post-Infection", "scale": {"domain": [34, 110.5], "nice": false, "zero": false}},
     "x2": {"field": "x2"}}},
   {"data": {"name": "d"}, "transform": [{"filter": "isValid(datum.e)"}],
    "mark": {"type": "errorbar", "ticks": {"size": 5}, "color": "#ff8c8c", "thickness": 1},
    "encoding": {"x": {"field": "w", "type": "quantitative", "title": "Weeks Post-Infection"},
     "y": {"field": "v", "type": "quantitative", "title": "ITS103.01 ADA (μg/ml IgG eq.)", "scale": {"domain": [0, 600], "nice": false}},
     "yError": {"field": "e"}}},
   {"data": {"name": "d"}, "mark": {"type": "line", "strokeWidth": 1, "color": "#ff3b3b"},
    "encoding": {"x": {"field": "w", "type": "quantitative", "title": "Weeks Post-Infection",
      "axis": {"values": [34,35,36,37,38,39,40,41,42,43,44,45,46,47,48,49,50,51,52,53,54,55,56,57,58,59,60,61,62,63,64,65,66,67,68,69,70,71,72,73,74,75,76,77,78,79,80,81,82,83,84,85,86,87,88,89,90,91,92,93,94,95,96,97,98,99,100,101,102,103,104,105,106,107,108,109,110], "tickCount": 500, "format": "d", "labelExpr": "(datum.value - 34) % 8 === 0 ? datum.label : ''", "labelOverlap": false, "tickSize": {"condition": {"test": "(datum.value - 34) % 8 === 0", "value": 4}, "value": 2.5}, "titlePadding": 1}},
     "y": {"field": "v", "type": "quantitative", "title": "ITS103.01 ADA (μg/ml IgG eq.)", "axis": {"values": [0,50,100,150,200,250,300,350,400,450,500,550,600], "tickCount": 500, "format": "d", "labelOverlap": false, "titlePadding": 3}}, "detail": {"field": "s"}}},
   {"data": {"name": "d"}, "mark": {"type": "point", "opacity": 1, "strokeWidth": 1},
    "encoding": {"x": {"field": "w", "type": "quantitative", "title": "Weeks Post-Infection"}, "y": {"field": "v", "type": "quantitative", "title": "ITS103.01 ADA (μg/ml IgG eq.)"},
     "size": {"condition": [{"test": "datum.s === 'r17040'", "value": 18}], "value": 26},
     "shape": {"field": "s", "type": "nominal", "scale": {"domain": ["r16080","r17009","r17057","r17040","r17058","r17080","rhbn07","r17114"], "range": ["circle","triangle-up","square","diamond","circle","triangle-down","M-1,-1L1,1M-1,1L1,-1","M-1,0H1M0,-1V1"]},
      "legend": {"title": null, "orient": "none", "legendX": 11, "legendY": 8}},
     "stroke": {"field": "s", "type": "nominal", "scale": {"domain": ["r16080","r17009","r17057","r17040","r17058","r17080","rhbn07","r17114"], "range": ["#ff0000","#ff0000","#ff0000","#ff0000","#ff0000","#ff0000","#ff0000","#ff0000"]},
      "legend": {"title": null, "orient": "none", "legendX": 11, "legendY": 8}},
     "fill": {"field": "s", "type": "nominal", "scale": {"domain": ["r16080","r17009","r17057","r17040","r17058","r17080","rhbn07","r17114"], "range": ["#ff0000","#ff0000","#ff0000","#ff0000","#ffffff","#ff0000","#ff0000","#ff0000"]},
      "legend": {"title": null, "orient": "none", "legendX": 11, "legendY": 8}}}}
  ]}
 ], "spacing": 18, "resolve": {"legend": {"shape": "independent", "stroke": "independent", "fill": "independent"}, "scale": {"shape": "independent", "stroke": "independent", "fill": "independent"}}}
],
"resolve": {"legend": {"shape": "independent", "stroke": "independent", "fill": "independent"}, "scale": {"shape": "independent", "stroke": "independent", "fill": "independent"}}
}
